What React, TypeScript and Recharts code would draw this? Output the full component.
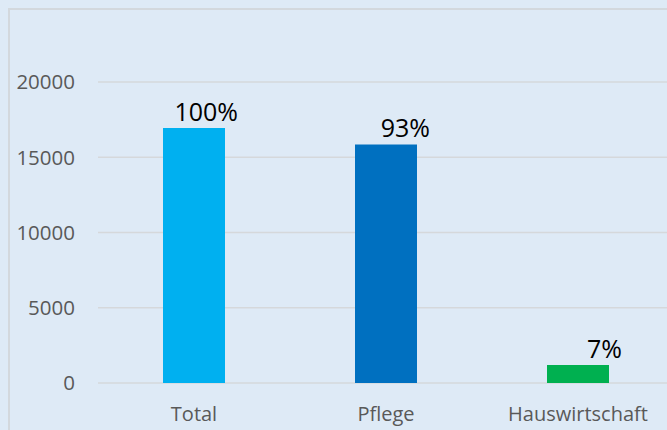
import React from "react";
import { BarChart, Bar, XAxis, YAxis, CartesianGrid, Cell, LabelList } from "recharts";

const categories = ["Total", "Pflege", "Hauswirtschaft"];
const counts = [16950, 15850, 1190];
const shares = ["100%", "93%", "7%"];
const yTicks = [0, 5000, 10000, 15000, 20000];
const barColors = ["#00B0F0", "#0070C0", "#00B050"];

const data = categories.map((name, i) => ({ name, value: counts[i], share: shares[i] }));

const FONT = "'Open Sans', sans-serif";

const ShareLabel = (props: any) => {
  const { x, y, width, index } = props;
  return (
    <text
      x={Number(x) + Number(width) + 13}
      y={Number(y) - 7}
      textAnchor="end"
      fill="#000000"
      fontFamily={FONT}
      fontSize={25}
    >
      {shares[index]}
    </text>
  );
};

export default function App() {
  return (
    <div
      style={{
        position: "fixed",
        left: 0,
        top: 0,
        width: 667,
        height: 430,
        overflow: "hidden",
        background: "#DEEAF6",
      }}
    >
      <div
        style={{
          position: "absolute",
          left: 8,
          top: 8,
          width: 700,
          height: 460,
          borderLeft: "2px solid #D3D8DD",
          borderTop: "2px solid #D3D8DD",
        }}
      />
      <div style={{ position: "absolute", left: 0, top: 0 }}>
        <BarChart
          width={680}
          height={430}
          data={data}
          margin={{ top: 82, right: 6, bottom: 0, left: 0 }}
        >
          <CartesianGrid horizontal vertical={false} stroke="#D5D8DB" strokeWidth={1.5} />
          <XAxis
            dataKey="name"
            axisLine={false}
            tickLine={false}
            tickMargin={18}
            height={47}
            tick={{ fill: "#595959", fontFamily: FONT, fontSize: 20 }}
          />
          <YAxis
            domain={[0, 20000]}
            ticks={yTicks}
            width={98}
            axisLine={false}
            tickLine={false}
            tickMargin={17}
            tick={{ fill: "#595959", fontFamily: FONT, fontSize: 20.5 }}
          />
          <Bar dataKey="value" barSize={62} isAnimationActive={false}>
            {data.map((d, i) => (
              <Cell key={d.name} fill={barColors[i]} />
            ))}
            <LabelList dataKey="share" content={<ShareLabel />} />
          </Bar>
        </BarChart>
      </div>
    </div>
  );
}
